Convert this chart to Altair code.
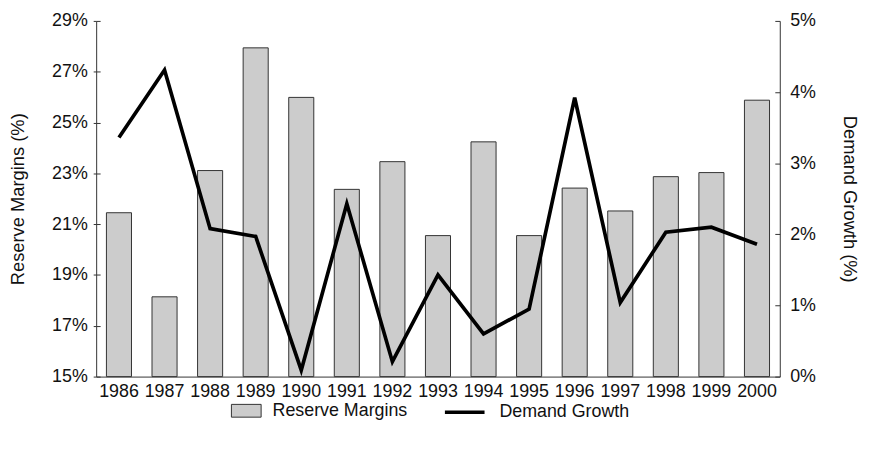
import altair as alt
import pandas as pd

years = [str(y) for y in range(1986, 2001)]
reserve_margins = [21.45, 18.14, 23.11, 27.94, 25.99, 22.37, 23.46, 20.55,
                   24.24, 20.55, 22.42, 21.52, 22.87, 23.03, 25.88]
demand_growth = [3.36, 4.31, 2.08, 1.97, 0.09, 2.43, 0.21, 1.43,
                 0.60, 0.95, 3.92, 1.04, 2.03, 2.10, 1.86]
reserve_ticks = [15, 17, 19, 21, 23, 25, 27, 29]
growth_ticks = [0, 1, 2, 3, 4, 5]
series_bar = "Reserve Margins"
series_line = "Demand Growth"

df = pd.DataFrame({
    "year": years,
    "reserve": reserve_margins,
    "growth": demand_growth,
    "s1": series_bar,
    "s2": series_line,
})

FONT = "Liberation Sans"

x_enc = alt.X(
    "year:O",
    scale=alt.Scale(paddingInner=0.45, paddingOuter=0.225),
    axis=alt.Axis(title=None, labelAngle=0, ticks=False, tickSize=0,
                  labelPadding=6, labelFontSize=18),
)

bars = alt.Chart(df).mark_bar(stroke="#333333", strokeWidth=1).encode(
    x=x_enc,
    y=alt.Y(
        "reserve:Q",
        scale=alt.Scale(domain=[15, 29], zero=False, nice=False),
        axis=alt.Axis(
            values=reserve_ticks,
            labelExpr="datum.value + '%'",
            title="Reserve Margins (%)",
            titleX=-79, titleY=179.5, titleBaseline="middle", titleAlign="center",
            ticks=True, tickSize=3, tickColor="#333333", labelPadding=6,
            grid=True, gridDash=[4, 3000], gridColor="#333333", gridWidth=1, gridOpacity=1,
        ),
    ),
    y2=alt.datum(15),
    fill=alt.Fill(
        "s1:N",
        scale=alt.Scale(domain=[series_bar], range=["#cccccc"]),
        legend=alt.Legend(
            title=None, orient="none", legendX=136, legendY=378,
            symbolType="M-1,-0.43L1,-0.43L1,0.43L-1,0.43Z", symbolSize=900,
            symbolStrokeColor="#333333", symbolStrokeWidth=1, symbolOpacity=1,
            labelFontSize=18, labelOffset=11, labelLimit=400,
        ),
    ),
)

line = alt.Chart(df).mark_line(strokeWidth=3.7, strokeJoin="miter").encode(
    x=x_enc,
    y=alt.Y(
        "growth:Q",
        scale=alt.Scale(domain=[0, 5], nice=False),
        axis=alt.Axis(
            orient="right",
            values=growth_ticks,
            labelExpr="datum.value + '%'",
            title="Demand Growth (%)",
            titleX=70, titleY=179.5, titleBaseline="middle", titleAlign="center",
            ticks=False, tickSize=0, labelPadding=10,
            grid=True, gridDash=[5, 3000], gridColor="#333333", gridWidth=1, gridOpacity=1,
        ),
    ),
    stroke=alt.Stroke(
        "s2:N",
        scale=alt.Scale(domain=[series_line], range=["#000000"]),
        legend=alt.Legend(
            title=None, orient="none", legendX=350, legendY=373,
            symbolType="stroke", symbolSize=1600, symbolStrokeWidth=3.7,
            labelFontSize=18, labelOffset=13, labelLimit=400,
        ),
    ),
)

chart = alt.layer(bars, line).resolve_scale(
    y="independent", fill="independent", stroke="independent"
).properties(
    width=690, height=359,
    autosize=alt.AutoSizeParams(type="none"),
    padding={"left": 89, "top": 11, "right": 83, "bottom": 67},
).configure_axis(
    labelFont=FONT, titleFont=FONT, labelFontSize=18, titleFontSize=18.5,
    titleFontWeight="normal", labelColor="#111111", titleColor="#111111",
    domainColor="#333333", domainWidth=1,
).configure_legend(
    labelFont=FONT, labelColor="#111111",
).configure_view(stroke=None)

chart.save("out.html", embed_options={"renderer": "svg", "actions": False})
